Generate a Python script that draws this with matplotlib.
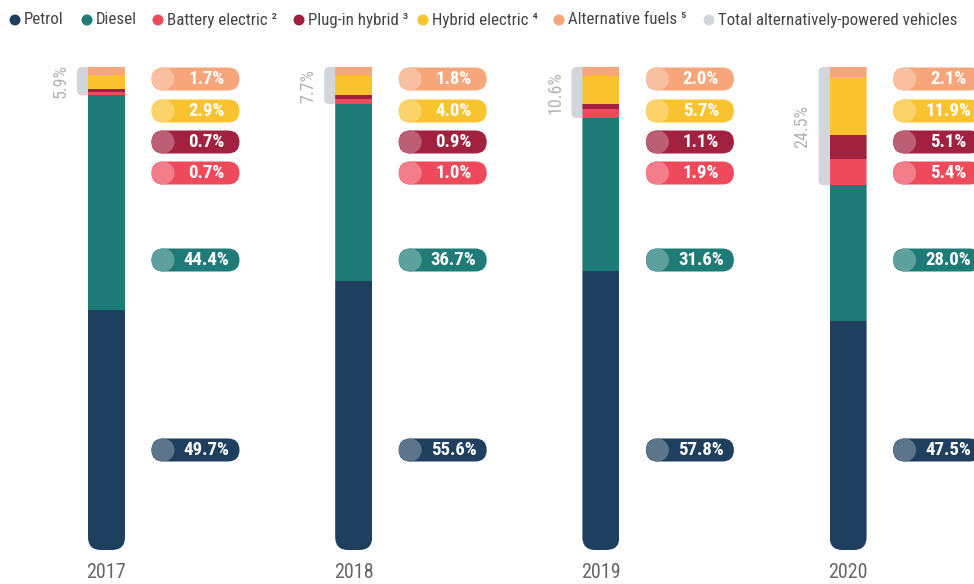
import matplotlib
matplotlib.use("Agg")
import matplotlib.pyplot as plt
import matplotlib.colors as mcolors
from matplotlib import font_manager as fm
from matplotlib.patches import FancyBboxPatch, Ellipse

# ---- data (shares of new registrations, %) ----
years = ["2017", "2018", "2019", "2020"]
petrol = [49.7, 55.6, 57.8, 47.5]
diesel = [44.4, 36.7, 31.6, 28.0]
battery_electric = [0.7, 1.0, 1.9, 5.4]
plug_in_hybrid = [0.7, 0.9, 1.1, 5.1]
hybrid_electric = [2.9, 4.0, 5.7, 11.9]
alternative_fuels = [1.7, 1.8, 2.0, 2.1]
total_alternative = [5.9, 7.7, 10.6, 24.5]

series_names = ["Petrol", "Diesel", "Battery electric", "Plug-in hybrid",
                "Hybrid electric", "Alternative fuels"]
footnotes = ["", "", "²", "³", "⁴", "⁵"]
series_values = [petrol, diesel, battery_electric, plug_in_hybrid,
                 hybrid_electric, alternative_fuels]
series_colors = ["#1e3f5e", "#1f7b78", "#ee4a5c", "#a2213f", "#f9c22f", "#f7a67c"]
total_name = "Total alternatively-powered vehicles"
total_color = "#d2d5db"


def pick_font():
    names = {f.name for f in fm.fontManager.ttflist}
    for fam in ["Roboto Condensed", "Liberation Sans Narrow", "Roboto"]:
        if fam in names:
            return fam
    return "DejaVu Sans"


FONT = pick_font()
plt.rcParams["font.family"] = [FONT, "DejaVu Sans"]

W, H = 974, 584
fig = plt.figure(figsize=(W / 100, H / 100), dpi=100)
fig.patch.set_facecolor("white")

# layout: one axes over the whole canvas, y in percent, x in category slots
slot_px = 247.2          # horizontal distance between columns
first_px = 106.5         # centre of first column
top_px, base_px = 67, 550  # pixel rows of 100 % and 0 %
xpp = 1.0 / slot_px
ypp = 100.0 / (base_px - top_px)
aspect = ypp / xpp

ax = fig.add_axes([0, 0, 1, 1])
ax.set_xlim(-first_px * xpp, (W - first_px) * xpp)
ax.set_ylim((base_px - H) * ypp, base_px * ypp)
ax.axis("off")


def px_x(px):
    return (px - first_px) * xpp


def px_y(py):
    return (base_px - py) * ypp


def lighten(c, amt):
    r, g, b = mcolors.to_rgb(c)
    return (r + (1 - r) * amt, g + (1 - g) * amt, b + (1 - b) * amt)


n = len(years)
xs = list(range(n))
bar_w = 37 * xpp

# grey brackets for the alternative-powered total
for i, tot in enumerate(total_alternative):
    left = i - bar_w / 2 - 11 * xpp
    br = FancyBboxPatch((left, 100 - tot), i - left, tot,
                        boxstyle=f"round,pad=0,rounding_size={5 * xpp}",
                        mutation_aspect=aspect, facecolor=total_color,
                        edgecolor="none", zorder=1)
    ax.add_patch(br)
    ax.text(i - bar_w / 2 - 27 * xpp, 100 - tot / 2, f"{tot}%", rotation=90,
            ha="center", va="center", fontsize=13, color="#b3b3b3")

# column clip shapes with rounded bottom
clips = []
for i in xs:
    cp = FancyBboxPatch((i - bar_w / 2, 0), bar_w, 130,
                        boxstyle=f"round,pad=0,rounding_size={13 * xpp}",
                        mutation_aspect=aspect, transform=ax.transData)
    clips.append(cp)

bottom = [0.0] * n
for vals, col in zip(series_values, series_colors):
    bars = ax.bar(xs, vals, bottom=bottom, width=bar_w, color=col,
                  linewidth=0, zorder=2)
    for i, rect in enumerate(bars):
        rect.set_clip_path(clips[i])
    bottom = [b + v for b, v in zip(bottom, vals)]

# value pills to the right of every column
pill_rows_px = {5: 79, 4: 111, 3: 142, 2: 173, 1: 260, 0: 450}
pill_w, pill_h = 88, 23
for i in xs:
    x0 = i + 45 * xpp
    for s, py in pill_rows_px.items():
        col = series_colors[s]
        yc = px_y(py)
        pill = FancyBboxPatch((x0, yc - pill_h / 2 * ypp), pill_w * xpp, pill_h * ypp,
                              boxstyle=f"round,pad=0,rounding_size={pill_h / 2 * xpp}",
                              mutation_aspect=aspect, facecolor=col,
                              edgecolor="none", zorder=3, clip_on=False)
        ax.add_patch(pill)
        ax.add_patch(Ellipse((x0 + pill_h / 2 * xpp, yc), pill_h * xpp, pill_h * ypp,
                             facecolor=lighten(col, 0.28), edgecolor="none",
                             zorder=4, clip_on=False))
        ax.text(x0 + 55 * xpp, yc, f"{series_values[s][i]:.1f}%", ha="center",
                va="center", color="white", fontsize=13.5, fontweight="bold",
                zorder=5)
    ax.text(i, px_y(572), years[i], ha="center", va="center", fontsize=14.5,
            color="#666666")

# legend row
legend_px = [15, 87, 158, 299, 423, 559, 709]
leg_y = px_y(20)
names = [nm + (" " + fn if fn else "") for nm, fn in zip(series_names, footnotes)]
for px, nm, col in zip(legend_px, names + [total_name], series_colors + [total_color]):
    ax.add_patch(Ellipse((px_x(px), leg_y), 11 * xpp, 11 * ypp, facecolor=col,
                         edgecolor="none", clip_on=False))
    ax.text(px_x(px + 9), leg_y, nm, ha="left", va="center", fontsize=12.2,
            color="#444444")

fig.savefig("out.png", dpi=100, facecolor="white")
